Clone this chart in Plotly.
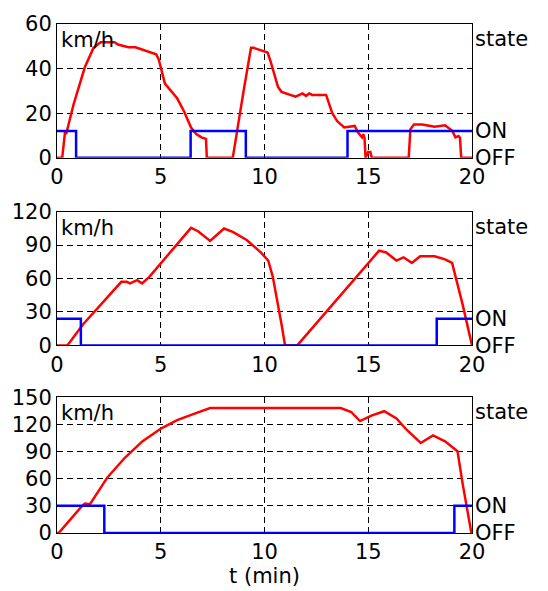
import plotly.graph_objects as go

# ---------------- data ----------------
# Panel 1
t1 = [0, 0.25, 0.38, 0.45, 0.8, 1.34, 1.76, 2.1, 2.77, 2.94, 3.44, 3.78, 4.78, 4.9, 5.2, 5.79,
      6.12, 6.46, 6.71, 6.96, 7.18, 7.22, 8.47, 8.56, 9.0, 9.35, 9.48, 10.15, 10.3, 10.65, 10.82,
      11.5, 11.83, 12.0, 12.16, 12.3, 12.97, 13.26, 13.5, 13.84, 14.35, 14.5, 14.7, 14.76, 14.82,
      14.87, 15.0, 15.1, 15.17, 16.95, 17.03, 17.2, 17.6, 18.2, 18.7, 19.05, 19.2, 19.35, 19.42,
      19.48, 20]
v1 = [0, 0, 11, 11, 24, 40.6, 49.3, 51.8, 51.8, 50.8, 49.6, 49.6, 46.4, 44.2, 33.3, 26.7,
      20.9, 13.6, 10.7, 9.2, 8.5, 0, 0, 5.5, 30.4, 49.3, 49.3, 47.2, 43.0, 31.8, 29.6,
      27.4, 28.9, 27.8, 28.9, 28.2, 28.2, 20.1, 16.5, 13.6, 14.3, 11.4, 9.2, 10.6, 9.0,
      0, 2.6, 2.6, 0, 0, 12.8, 15.0, 15.0, 14.0, 14.6, 12.1, 9.2, 9.8, 9.0,
      0, 0]
s1_t = [0, 0.92, 0.92, 6.44, 6.44, 9.1, 9.1, 14.0, 14.0, 20]
s1_v = [1, 1, 0, 0, 1, 1, 0, 0, 1, 1]

# Panel 2
t2 = [0, 0.5, 1.26, 3.1, 3.36, 3.52, 3.86, 4.1, 4.45, 6.46, 6.8, 7.38, 8.05, 8.47, 9.14, 9.82,
      10.18, 10.4, 10.82, 10.99, 11.58, 15.52, 15.86, 16.36, 16.7, 17.1, 17.5, 18.2, 18.7, 19.04,
      19.55, 19.97, 20]
v2 = [0, 0, 19, 57, 57, 55.6, 58.5, 55.6, 61.5, 105.4, 102.4, 93.7, 104.8, 101.8, 94.5, 83.4,
      76.1, 61.5, 19.0, 0, 0, 84.9, 83.4, 76.1, 79.0, 74.0, 79.9, 79.9, 77.2, 74.0,
      36.6, 0, 0]
s2_t = [0, 1.15, 1.15, 18.3, 18.3, 20]
s2_v = [1, 1, 0, 0, 1, 1]

# Panel 3
t3 = [0, 0.08, 1.17, 1.34, 1.59, 2.43, 3.27, 4.11, 5.03, 5.79, 6.63, 7.38, 13.67, 14.18, 14.6,
      15.18, 15.77, 16.36, 16.86, 17.53, 18.12, 18.7, 19.3, 19.55, 19.97, 20]
v3 = [0, 0, 28.9, 32.5, 31.8, 61.4, 83.1, 101.2, 115.6, 124.7, 131.9, 138, 138, 133.7, 123.6,
      130, 134.5, 126.5, 113.8, 99.4, 107.7, 101.2, 90.4, 54.2, 0, 0]
s3_t = [0, 2.28, 2.28, 19.15, 19.15, 20]
s3_v = [1, 1, 0, 0, 1, 1]

x_ticks = [0, 5, 10, 15, 20]
y_ticks = [[0, 20, 40, 60], [0, 30, 60, 90, 120], [0, 30, 60, 90, 120, 150]]
y_ranges = [[0, 60], [0, 120], [0, 150]]
state_vals = [0, 1, 4.45]
state_text = ["OFF", "ON", "state"]

# ---------------- figure ----------------
FONT = "DejaVu Sans, Arial, sans-serif"
fs = 21
domains = [[0.737, 1.0], [0.3685, 0.6315], [0.0, 0.2668]]

fig = go.Figure()
series = [(t1, v1, s1_t, s1_v), (t2, v2, s2_t, s2_v), (t3, v3, s3_t, s3_v)]
for i, (tt, vv, st, sv) in enumerate(series):
    xa = "x" if i == 0 else f"x{i+1}"
    ya = "y" if i == 0 else f"y{2*i+1}"
    yb = f"y{2*i+2}"
    fig.add_trace(go.Scatter(x=st, y=sv, mode="lines", xaxis=xa, yaxis=yb,
                             line=dict(color="#0000ff", width=2.5), showlegend=False))
    fig.add_trace(go.Scatter(x=tt, y=vv, mode="lines", xaxis=xa, yaxis=ya,
                             line=dict(color="#ff0000", width=2.5), showlegend=False))

layout = dict(
    width=548, height=591,
    margin=dict(l=54, r=76, t=16, b=54),
    paper_bgcolor="white", plot_bgcolor="white",
    font=dict(family=FONT, size=fs, color="black"),
)
common_axis = dict(showline=True, mirror=True, linecolor="black", linewidth=1,
                   zeroline=False, showgrid=True, gridcolor="black", gridwidth=1,
                   griddash="6px,4px", ticks="", tickfont=dict(size=fs, color="black"))
for i in range(3):
    xk = "xaxis" if i == 0 else f"xaxis{i+1}"
    yk = "yaxis" if i == 0 else f"yaxis{2*i+1}"
    yk2 = f"yaxis{2*i+2}"
    ya_ref = "y" if i == 0 else f"y{2*i+1}"
    xa_ref = "x" if i == 0 else f"x{i+1}"
    layout[xk] = dict(common_axis, domain=[0, 1], anchor=ya_ref, range=[0, 20],
                      tickvals=x_ticks, ticklabelstandoff=0)
    layout[yk] = dict(common_axis, domain=domains[i], anchor=xa_ref, range=y_ranges[i],
                      tickvals=y_ticks[i], ticklabelstandoff=0)
    layout[yk2] = dict(overlaying=ya_ref, anchor=xa_ref, side="right", range=[0, 5],
                       tickvals=state_vals, ticktext=state_text, showgrid=False,
                       zeroline=False, showline=False, ticks="", ticklabelstandoff=2,
                       tickfont=dict(size=fs, color="black"))
fig.update_layout(**layout)

for i in range(3):
    xa_ref = "x" if i == 0 else f"x{i+1}"
    ya_ref = "y" if i == 0 else f"y{2*i+1}"
    fig.add_annotation(text="km/h", x=0.005, y=0.88, xref=f"{xa_ref} domain",
                       yref=f"{ya_ref} domain", xanchor="left", yanchor="middle",
                       showarrow=False, font=dict(size=fs, color="black", family=FONT))

fig.update_layout(xaxis3_title=dict(text="t (min)", font=dict(size=fs, color="black"),
                                    standoff=0))

fig.write_html("out.html", config={"displayModeBar": False},
               post_script="document.body.style.margin='0';")
